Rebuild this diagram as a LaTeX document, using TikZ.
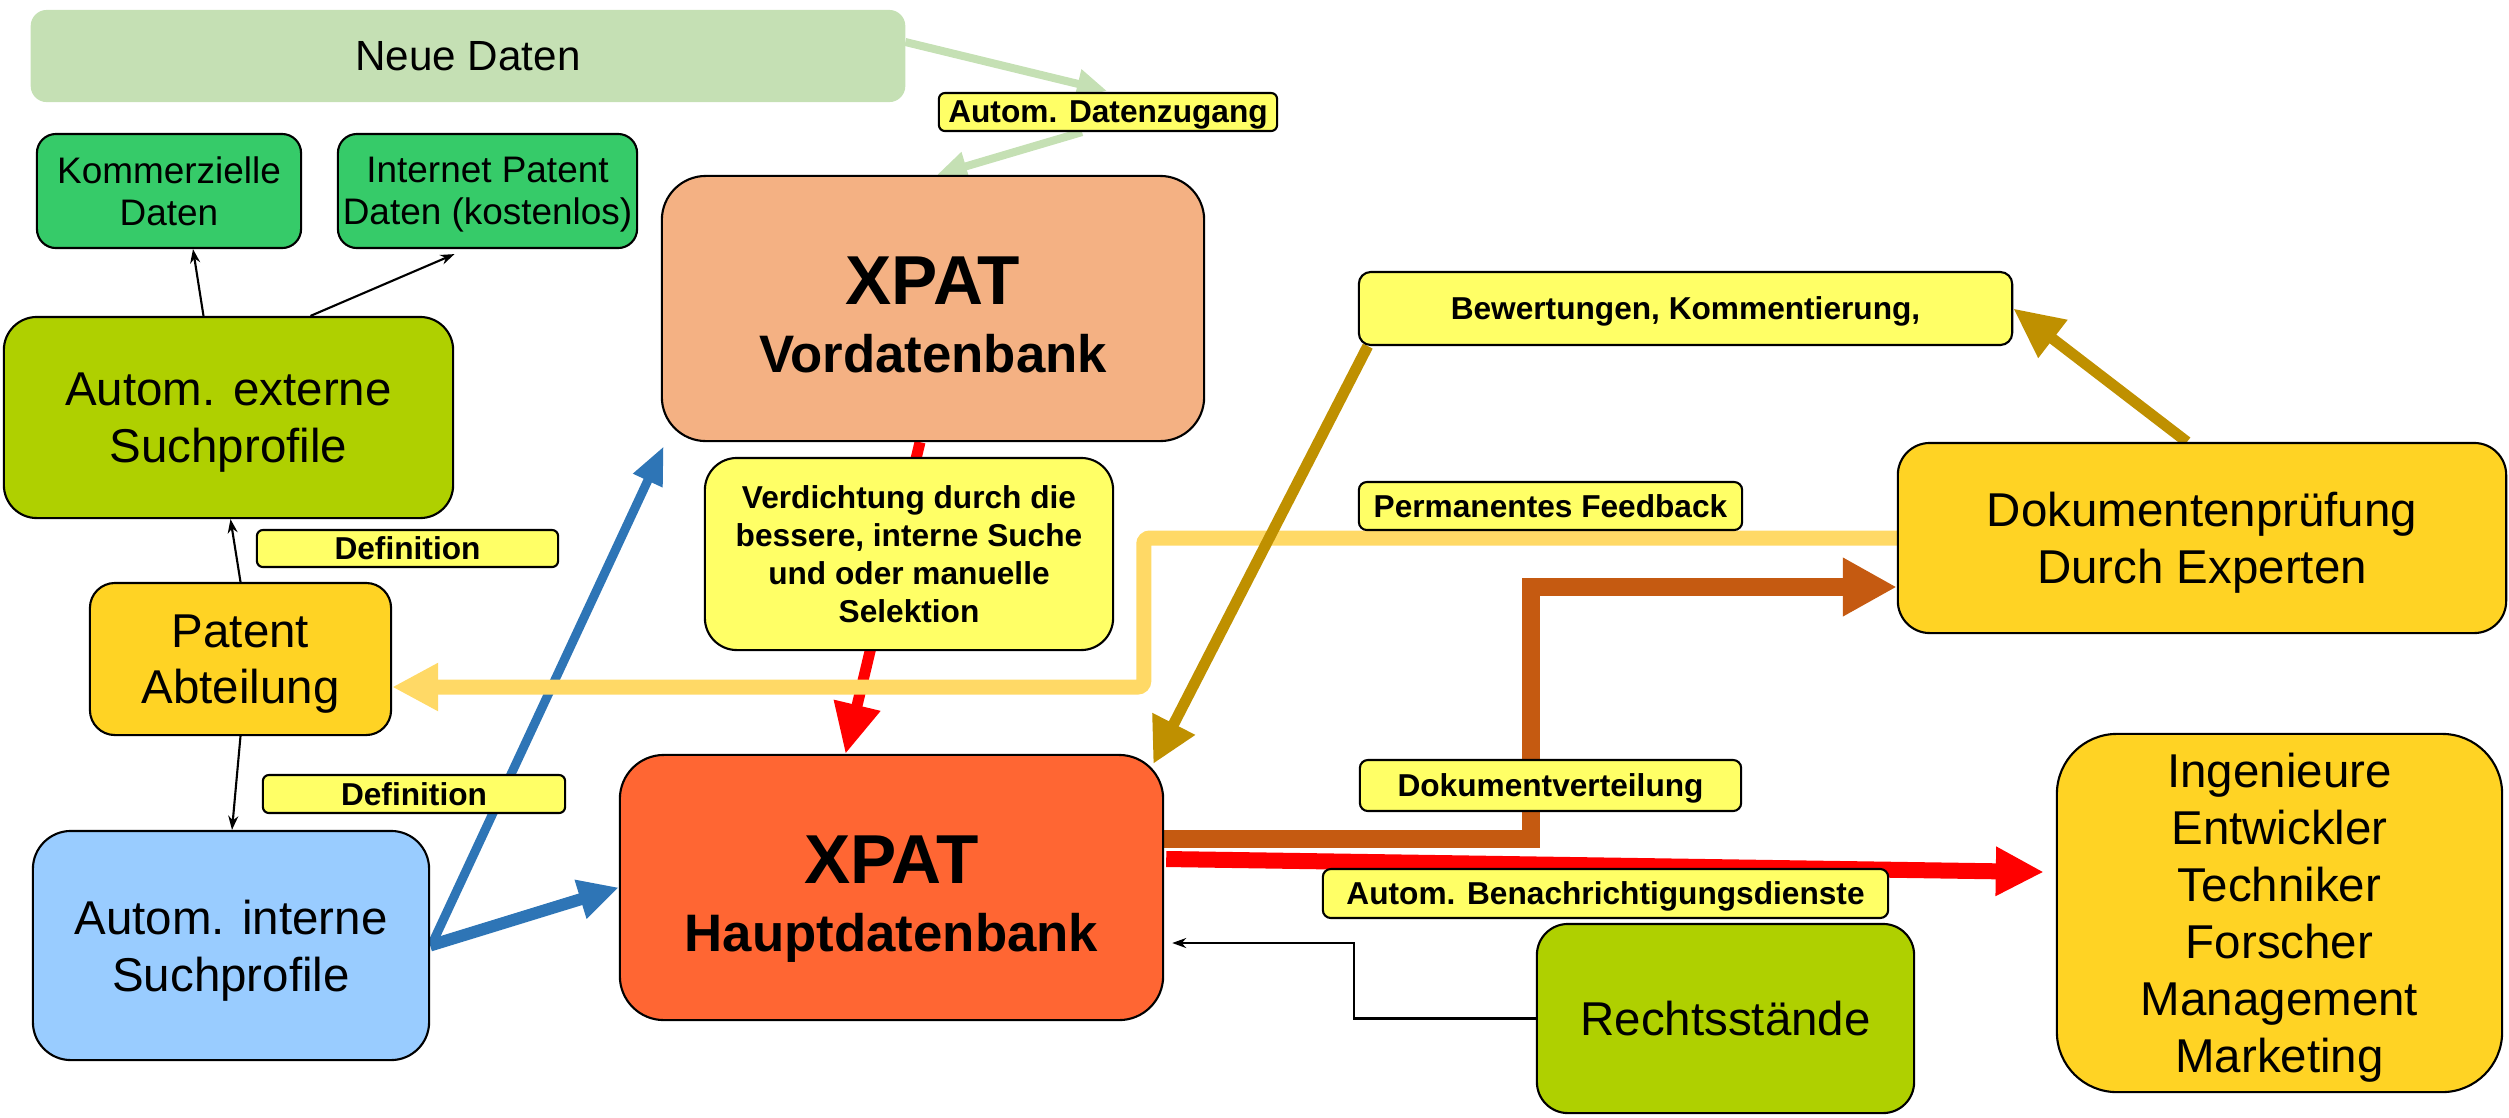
\documentclass[tikz,border=0pt]{standalone}
\usepackage{fontspec}
\setmainfont{Liberation Sans}
\usetikzlibrary{arrows.meta,calc,backgrounds}
\definecolor{cNeue}{HTML}{C5E0B4}
\definecolor{cGreen}{HTML}{36CB69}
\definecolor{cSalmon}{HTML}{F4B183}
\definecolor{cLime}{HTML}{AFD000}
\definecolor{cGold}{HTML}{FFD324}
\definecolor{cSky}{HTML}{99CCFF}
\definecolor{cHaupt}{HTML}{FF6633}
\definecolor{cYel}{HTML}{FFFF66}
\definecolor{cBlue}{HTML}{2E75B6}
\definecolor{cRed}{HTML}{FF0000}
\definecolor{cLightOr}{HTML}{FFD966}
\definecolor{cDarkGold}{HTML}{BF9000}
\definecolor{cBrown}{HTML}{C55A11}
\tikzset{
  box/.style={draw=black, line width=0.6pt, align=center, inner sep=1pt, text depth=0pt},
  lbl/.style={box, fill=cYel, rounded corners=0.06cm, font=\bfseries\fontsize{9}{10.8}\selectfont},
  bigtxt/.style={font=\fontsize{13.5}{16.1}\selectfont},
  xpat/.style={box, minimum width=5.42cm, minimum height=2.65cm, rounded corners=0.44cm, font=\bfseries\fontsize{15}{19.3}\selectfont},
  thin/.style={draw=black, line width=0.6pt, -{Stealth[length=0.14cm,width=0.1cm]}},
}
\begin{document}
\begin{tikzpicture}[x=0.01cm,y=-0.01cm]
\useasboundingbox (0,0) rectangle (2509,1117);

% nodes
\node[box, draw=cNeue, fill=cNeue, minimum width=8.72cm, minimum height=0.9cm, rounded corners=0.15cm, font=\fontsize{12}{14}\selectfont] (neue) at (468,56) {Neue Daten};
\node[lbl, minimum width=3.38cm, minimum height=0.38cm] (datenz) at (1108,112) {Autom. Datenzugang};
\node[box, fill=cGreen, minimum width=2.64cm, minimum height=1.14cm, rounded corners=0.19cm, font=\fontsize{10.5}{11.8}\selectfont] (komm) at (169,191) {Kommerzielle\\Daten};
\node[box, fill=cGreen, minimum width=2.99cm, minimum height=1.14cm, rounded corners=0.19cm, font=\fontsize{10.5}{11.8}\selectfont] (internet) at (487.5,191) {Internet Patent\\Daten (kostenlos)};
\node[xpat, fill=cSalmon] (vordb) at (933,308.5) {{\fontsize{19.7}{19.3}\selectfont\rule{0pt}{16.9pt}XPAT}\\Vordatenbank};
\node[box, bigtxt, fill=cLime, minimum width=4.49cm, minimum height=2.01cm, rounded corners=0.33cm] (extern) at (228.5,417.5) {Autom. externe\\Suchprofile};
\node[lbl, minimum width=3.01cm, minimum height=0.37cm] (def1) at (407.5,548.5) {Definition};
\node[box, bigtxt, fill=cGold, minimum width=3.01cm, minimum height=1.52cm, rounded corners=0.25cm] (patent) at (240.5,659) {Patent\\Abteilung};
\node[lbl, minimum width=3.02cm, minimum height=0.38cm] (def2) at (414,794) {Definition};
\node[box, bigtxt, fill=cSky, minimum width=3.96cm, minimum height=2.29cm, rounded corners=0.38cm] (intern) at (231,945.5) {Autom. interne\\Suchprofile};
\node[xpat, fill=cHaupt, minimum width=5.43cm] (haupt) at (891.5,887.5) {{\fontsize{19.7}{19.3}\selectfont\rule{0pt}{16.9pt}XPAT}\\Hauptdatenbank};
\node[lbl, minimum width=4.08cm, minimum height=1.92cm, rounded corners=0.32cm] (verd) at (909,554) {Verdichtung durch die\\bessere, interne Suche\\und oder manuelle\\Selektion};
\node[lbl, minimum width=6.53cm, minimum height=0.73cm, rounded corners=0.12cm] (bewert) at (1685.5,308.5) {Bewertungen, Kommentierung,};
\node[lbl, minimum width=3.83cm, minimum height=0.48cm, rounded corners=0.08cm] (perm) at (1550.5,506) {Permanentes Feedback};
\node[box, bigtxt, fill=cGold, minimum width=6.08cm, minimum height=1.9cm, rounded corners=0.32cm] (dokpr) at (2202,538) {Dokumentenprüfung\\Durch Experten};
\node[lbl, minimum width=3.81cm, minimum height=0.51cm, rounded corners=0.08cm] (dokvert) at (1550.5,785.5) {Dokumentverteilung};
\node[lbl, minimum width=5.65cm, minimum height=0.49cm, rounded corners=0.08cm] (benach) at (1605.5,893.5) {Autom. Benachrichtigungsdienste};
\node[box, bigtxt, fill=cLime, minimum width=3.77cm, minimum height=1.89cm, rounded corners=0.31cm] (recht) at (1725.5,1018.5) {Rechtsstände};
\node[box, fill=cGold, minimum width=4.45cm, minimum height=3.58cm, rounded corners=0.6cm, font=\fontsize{13.5}{16.2}\selectfont] (ingen) at (2279.5,913) {Ingenieure\\Entwickler\\Techniker\\Forscher\\Management\\Marketing};

% connectors
\begin{scope}[on background layer]
\draw[cNeue, line width=0.08cm, -{Triangle[length=0.3cm,width=0.28cm]}] ($(neue.east)+(0,-14)$) -- ($(datenz.north)+(-1,-1)$);
\draw[cNeue, line width=0.08cm, -{Triangle[length=0.3cm,width=0.28cm]}] ($(datenz.south)+(-26,0)$) -- ($(vordb.north)+(4,0)$);

\draw[thin] ($(extern.north)+(-25,0)$) -- ($(komm.south)+(24,0)$);
\draw[thin] ($(extern.north)+(82,0)$) -- ($(internet.south)+(-33,5)$);
\draw[thin] (patent.north) -- ($(extern.south)+(2,0)$);
\draw[thin] (patent.south) -- ($(intern.north)+(1,0)$);

\draw[cBlue, line width=0.09cm, -{Triangle[length=0.38cm,width=0.3cm]}] ($(intern.east)+(3,-4)$) -- ($(vordb.south west)+(3,4)$);
\draw[cBlue, line width=0.12cm, -{Triangle[length=0.4cm,width=0.38cm]}] (intern.east) -- (haupt.west);

\draw[cRed, line width=0.11cm, -{Triangle[length=0.5cm,width=0.45cm]}] ($(vordb.south)+(-13,0)$) -- ($(haupt.north)+(-46,0)$);

\draw[cLightOr, line width=0.15cm, rounded corners=0.06cm, -{Triangle[length=0.46cm,width=0.45cm]}] (dokpr.west) -- ++(-753,0) |- ($(patent.east)+(0,28)$);

\draw[cDarkGold, line width=0.11cm, -{Triangle[length=0.5cm,width=0.45cm]}] ($(dokpr.north)+(-15,0)$) -- (bewert.east);
\draw[cDarkGold, line width=0.11cm, -{Triangle[length=0.45cm,width=0.45cm]}] ($(bewert.south west)+(10,0)$) -- ($(haupt.north east)+(-11,10)$);

\draw[cBrown, line width=0.18cm, -{Triangle[length=0.54cm,width=0.55cm]}] ($(haupt.east)+(0,-48.5)$) -- ++(367,0) |- ($(dokpr.west)+(0,49)$);

\draw[cRed, line width=0.16cm, -{Triangle[length=0.48cm,width=0.46cm]}] ($(haupt.east)+(2,-28.5)$) -- ($(ingen.west)+(-12,-41)$);

\draw[thin] (recht.west) -- ++(-182,0) |- ($(haupt.east)+(8,55.5)$);
\end{scope}
\end{tikzpicture}
\end{document}
